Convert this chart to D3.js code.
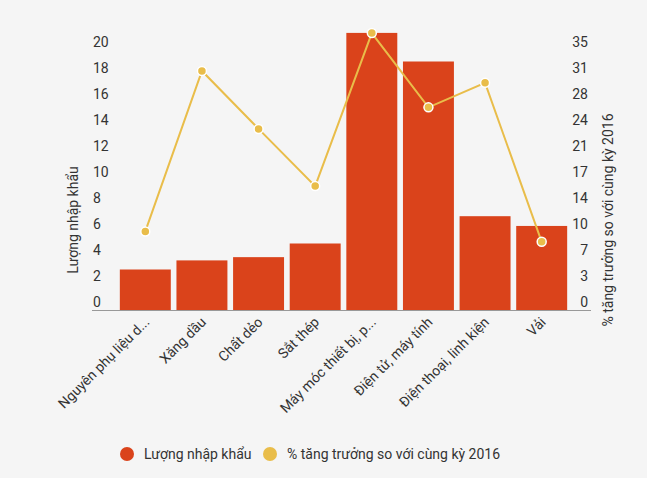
<!DOCTYPE html>
<meta charset="utf-8">
<script src="https://d3js.org/d3.v7.min.js"></script>
<style>
  body { margin: 0; background: #f5f5f5; }
  svg { font-family: Roboto, "Noto Sans", sans-serif; }
  text { fill: #333; }
</style>
<body></body>
<script>
  // data
  var categories = ['Nguyên phụ liệu d...', 'Xăng dầu', 'Chất dẻo', 'Sắt thép',
    'Máy móc thiết bị, p...', 'Điện tử, máy tính', 'Điện thoại, linh kiện', 'Vải'];
  var imports = [2.5, 3.2, 3.45, 4.5, 20.7, 18.5, 6.6, 5.85];
  var growth = [9.5, 31.1, 23.3, 15.6, 36.2, 26.2, 29.5, 8.1];
  var leftTicks = [0, 2, 4, 6, 8, 10, 12, 14, 16, 18, 20];
  var rightTicks = [0, 3.5, 7, 10.5, 14, 17.5, 21, 24.5, 28, 31.5, 35];
  var seriesNames = ['Lượng nhập khẩu', '% tăng trưởng so với cùng kỳ 2016'];

  var width = 647, height = 478;
  var barColor = '#da431b', lineColor = '#e9bd4a';
  var baseY = 310;

  var svg = d3.select('body').append('svg')
    .attr('width', width).attr('height', height);

  // scales
  var x = d3.scaleBand().domain(categories).range([117, 570])
    .paddingInner(0.1).paddingOuter(0.05);
  var yL = d3.scaleLinear().domain([0, 20]).range([302, 42]);
  var yR = d3.scaleLinear().domain([0, 35]).range([302, 42]);

  // bars
  svg.selectAll('rect.bar').data(imports).enter().append('rect')
    .attr('class', 'bar')
    .attr('x', function(d, i) { return x(categories[i]); })
    .attr('width', x.bandwidth())
    .attr('y', function(d) { return yL(d); })
    .attr('height', function(d) { return baseY - yL(d); })
    .attr('fill', barColor);

  // baseline
  svg.append('line').attr('x1', 92).attr('x2', 591)
    .attr('y1', baseY + 0.5).attr('y2', baseY + 0.5)
    .attr('stroke', '#999').attr('stroke-width', 1);

  // left ticks
  svg.selectAll('text.lt').data(leftTicks).enter().append('text')
    .attr('class', 'lt')
    .attr('x', 93).attr('y', function(d) { return yL(d); })
    .attr('dy', '0.35em').attr('font-size', 14)
    .text(function(d) { return d; });

  // right ticks
  svg.selectAll('text.rt').data(rightTicks).enter().append('text')
    .attr('class', 'rt')
    .attr('x', 588).attr('y', function(d) { return yR(d); })
    .attr('dy', '0.35em').attr('font-size', 14).attr('text-anchor', 'end')
    .text(function(d) { return Math.floor(d); });

  // axis titles
  svg.append('text').attr('transform', 'translate(78,220) rotate(-90)')
    .attr('text-anchor', 'middle').attr('font-size', 14)
    .text(seriesNames[0]);
  svg.append('text').attr('transform', 'translate(613,220) rotate(-90)')
    .attr('text-anchor', 'middle').attr('font-size', 14)
    .text(seriesNames[1]);

  // x labels
  svg.selectAll('text.xl').data(categories).enter().append('text')
    .attr('class', 'xl')
    .attr('transform', function(d) {
      return 'translate(' + (x(d) + x.bandwidth() / 2 + 5) + ',' + (baseY + 13) + ') rotate(-45)';
    })
    .attr('text-anchor', 'end').attr('font-size', 14)
    .text(function(d) { return d; });

  // line
  var line = d3.line()
    .x(function(d, i) { return x(categories[i]) + x.bandwidth() / 2; })
    .y(function(d) { return yR(d); });
  svg.append('path').datum(growth)
    .attr('d', line).attr('fill', 'none')
    .attr('stroke', lineColor).attr('stroke-width', 2);
  svg.selectAll('circle.pt').data(growth).enter().append('circle')
    .attr('class', 'pt')
    .attr('cx', function(d, i) { return x(categories[i]) + x.bandwidth() / 2; })
    .attr('cy', function(d) { return yR(d); })
    .attr('r', 4.5)
    .attr('fill', lineColor).attr('stroke', '#fff').attr('stroke-width', 1.5);

  // legend
  var legendX = [127, 270];
  var legend = svg.selectAll('g.lg').data(seriesNames).enter().append('g')
    .attr('class', 'lg')
    .attr('transform', function(d, i) { return 'translate(' + legendX[i] + ',454)'; });
  legend.append('circle').attr('r', 7)
    .attr('fill', function(d, i) { return i === 0 ? barColor : lineColor; });
  legend.append('text').attr('x', 17).attr('dy', '0.35em').attr('font-size', 14)
    .text(function(d) { return d; });
</script>
